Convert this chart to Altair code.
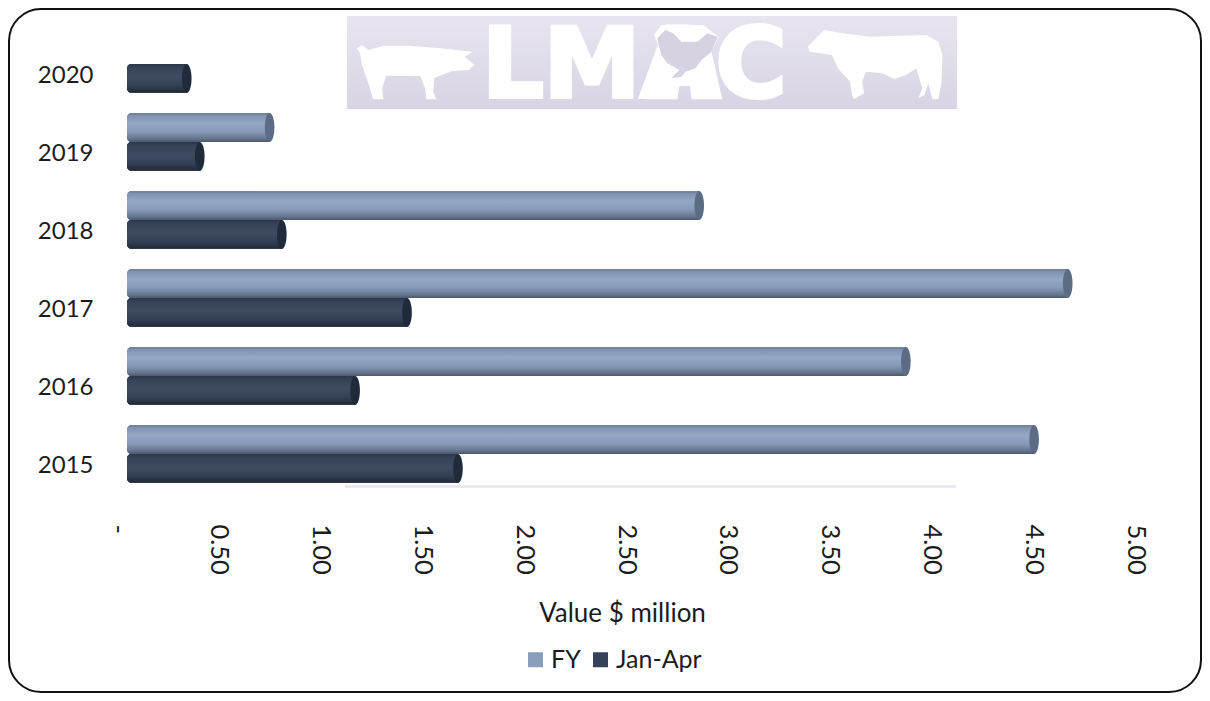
import altair as alt
import pandas as pd

# ---- chart values
years = ["2020", "2019", "2018", "2017", "2016", "2015"]
fy_values = [None, 0.725, 2.835, 4.645, 3.85, 4.48]
jan_apr_values = [0.318, 0.382, 0.785, 1.40, 1.145, 1.65]
series_names = ["FY", "Jan-Apr"]
legend_colors = ["#8a9dbb", "#36425a"]
x_ticks = [0, 0.5, 1, 1.5, 2, 2.5, 3, 3.5, 4, 4.5, 5]

PAD_L, PAD_T = 119, 17
PLOT_L, PLOT_T = PAD_L + 8, PAD_T + 8
PLOT_W, PLOT_H = 1018, 468


def px(x):
    return x - PLOT_L


def py(y):
    return y - PLOT_T


rows = []
for y, f, j in zip(years, fy_values, jan_apr_values):
    rows.append({"year": y, "series": "FY", "value": f})
    rows.append({"year": y, "series": "Jan-Apr", "value": j})
df = pd.DataFrame(rows).dropna()

y_enc = alt.Y(
    "year:N",
    sort=years,
    scale=alt.Scale(domain=years, paddingInner=0.26, paddingOuter=0.13),
    axis=alt.Axis(
        title=None, domain=False, ticks=False, labelPadding=34, labelOffset=12,
        labelFont="Lato", labelFontSize=24, labelColor="#1c1c1c",
    ),
)
yo_enc = alt.YOffset("series:N", scale=alt.Scale(domain=series_names, paddingInner=0, paddingOuter=0))
x_enc = alt.X(
    "value:Q",
    stack=None,
    scale=alt.Scale(domain=[0, 5], nice=False),
    axis=alt.Axis(
        values=x_ticks, grid=False, domain=False, ticks=False,
        labelAngle=90, labelAlign="left", labelBaseline="middle", labelPadding=31, labelOffset=-10,
        labelExpr="datum.value == 0 ? '-' : format(datum.value, '.2f')",
        labelFont="Lato", labelFontSize=25.5, labelColor="#1c1c1c", labelOverlap=False,
        title="Value $ million", titleFont="Lato", titleFontSize=26, titleFontWeight="normal",
        titleColor="#1c1c1c", titleX=495, titleY=621 - (PLOT_T + PLOT_H), titleAnchor="middle",
        titleBaseline="alphabetic",
    ),
)


def grad(stops):
    return alt.LinearGradient(
        gradient="linear", x1=0, x2=0, y1=0, y2=1,
        stops=[alt.GradientStop(offset=o, color=c) for o, c in stops],
    )


BAR = dict(cornerRadiusTopLeft=4, cornerRadiusBottomLeft=4, xOffset=-5)

base = alt.Chart(df).mark_bar(**BAR).encode(
    x=x_enc, y=y_enc, yOffset=yo_enc,
    color=alt.Color(
        "series:N",
        scale=alt.Scale(domain=series_names, range=legend_colors),
        legend=alt.Legend(
            title=None, orient="none", direction="horizontal", legendX=px(523), legendY=py(647),
            symbolType="square", symbolSize=225, symbolStrokeWidth=0, labelFont="Lato", labelFontSize=25,
            labelColor="#1c1c1c", labelOffset=3, columnPadding=7, padding=0,
        ),
    ),
)
fy_grad = grad([(0, "#5f6f88"), (0.08, "#7f92ae"), (0.35, "#94a8c7"), (0.65, "#8699b6"), (0.88, "#66768f"), (1, "#4b586d")])
ja_grad = grad([(0, "#2b3649"), (0.12, "#364257"), (0.45, "#3e4b62"), (0.75, "#333f54"), (0.93, "#262f40"), (1, "#1d2532")])
fy_bar = alt.Chart(df[df.series == "FY"]).mark_bar(color=fy_grad, **BAR).encode(x=x_enc, y=y_enc, yOffset=yo_enc)
ja_bar = alt.Chart(df[df.series == "Jan-Apr"]).mark_bar(color=ja_grad, **BAR).encode(x=x_enc, y=y_enc, yOffset=yo_enc)

CAP = "M0,-1 A0.33,1 0 1,1 0,1 A0.33,1 0 1,1 0,-1 Z"
fy_cap = alt.Chart(df[df.series == "FY"]).mark_point(
    shape=CAP, filled=True, opacity=1, size=841, xOffset=-5, color="#5c6c84"
).encode(x=x_enc, y=y_enc, yOffset=yo_enc)
ja_cap = alt.Chart(df[df.series == "Jan-Apr"]).mark_point(
    shape=CAP, filled=True, opacity=1, size=841, xOffset=-5, color="#1f2a3a"
).encode(x=x_enc, y=y_enc, yOffset=yo_enc)

one = alt.Data(values=[{"a": 1}])


def rect_at(x0, y0, x1, y1, **kw):
    return alt.Chart(one).mark_rect(**kw).encode(
        x=alt.value(px(x0)), x2=alt.value(px(x1)), y=alt.value(py(y0)), y2=alt.value(py(y1))
    )


# logo outlines: traced points on a 3x-by-2.49x crop grid
def outline_path(points, cx, cy, half):
    pts = [((340 + a / 2.49 - cx) / half, (5 + b / 3 - cy) / half) for a, b in points]
    return "M" + " L".join(f"{x:.3f},{y:.3f}" for x, y in pts) + " Z"


pig = [(42, 130), (55, 120), (70, 135), (110, 122), (170, 122), (250, 130), (330, 140), (310, 155), (335, 180),
       (320, 195), (280, 198), (235, 218), (232, 260), (240, 283), (215, 283), (212, 250), (200, 213), (115, 212),
       (105, 250), (108, 283), (82, 283), (72, 240), (55, 180), (50, 145)]
cow = [(1165, 125), (1205, 75), (1250, 85), (1320, 95), (1460, 90), (1490, 110), (1500, 150), (1498, 230), (1490, 283),
       (1475, 283), (1465, 235), (1455, 270), (1440, 280), (1450, 250), (1435, 190), (1410, 210), (1380, 222),
       (1350, 205), (1310, 200), (1300, 230), (1305, 265), (1280, 283), (1275, 270), (1270, 230), (1240, 190),
       (1225, 150), (1170, 140)]
hen_back = [(760, 283), (840, 283), (845, 243), (872, 243), (875, 283), (952, 283), (925, 140), (942, 95), (915, 70),
            (905, 60), (800, 60), (782, 90), (795, 130)]
hen = [(790, 100), (810, 75), (830, 85), (850, 110), (890, 110), (915, 85), (940, 95), (925, 140), (900, 165), (885, 190),
       (860, 200), (850, 215), (825, 220), (845, 195), (815, 175), (800, 150), (795, 125)]


def shape_at(points, cx, cy, half, color):
    return alt.Chart(one).mark_point(
        shape=outline_path(points, cx, cy, half), filled=True, opacity=1, size=(2 * half) ** 2, color=color
    ).encode(x=alt.value(px(cx)), y=alt.value(py(cy)))


logo_bg = rect_at(347, 16, 957, 109, color=alt.LinearGradient(
    gradient="linear", x1=0, x2=0, y1=0, y2=1,
    stops=[alt.GradientStop(offset=0, color="#e8e5f0"), alt.GradientStop(offset=1, color="#d8d4e4")]))
logo_strip = rect_at(345, 485, 956, 488, color="#ebe8f1")
logo_text = alt.Chart(one).mark_text(
    text="LMAC", font="DejaVu Sans", fontWeight="bold", fontSize=97, align="left", baseline="alphabetic",
    color="white", stroke="white", strokeWidth=4,
).encode(x=alt.value(px(482)), y=alt.value(py(97)))

frame = rect_at(9, 9, 1201, 692, fill="transparent", stroke="#111111", strokeWidth=2, cornerRadius=32)

chart = (
    alt.layer(
        logo_bg, logo_strip, logo_text,
        shape_at(hen_back, 680, 60, 60, "white"),
        shape_at(hen, 680, 60, 60, "#d6d2e2"),
        shape_at(pig, 416, 72, 62, "white"),
        shape_at(cow, 875, 65, 72, "white"),
        base, ja_bar, fy_bar, ja_cap, fy_cap, frame,
    )
    .resolve_scale(x="shared", y="shared")
    .properties(
        width=PLOT_W, height=PLOT_H, background="white",
        autosize=alt.AutoSizeParams(type="none", contains="content"),
        padding={"left": PAD_L, "top": PAD_T, "right": 1194 - PAD_L - PLOT_W, "bottom": 685 - PAD_T - PLOT_H},
    )
    .configure_view(stroke=None)
)

chart.save("out.html", embed_options={"renderer": "svg", "actions": False})
